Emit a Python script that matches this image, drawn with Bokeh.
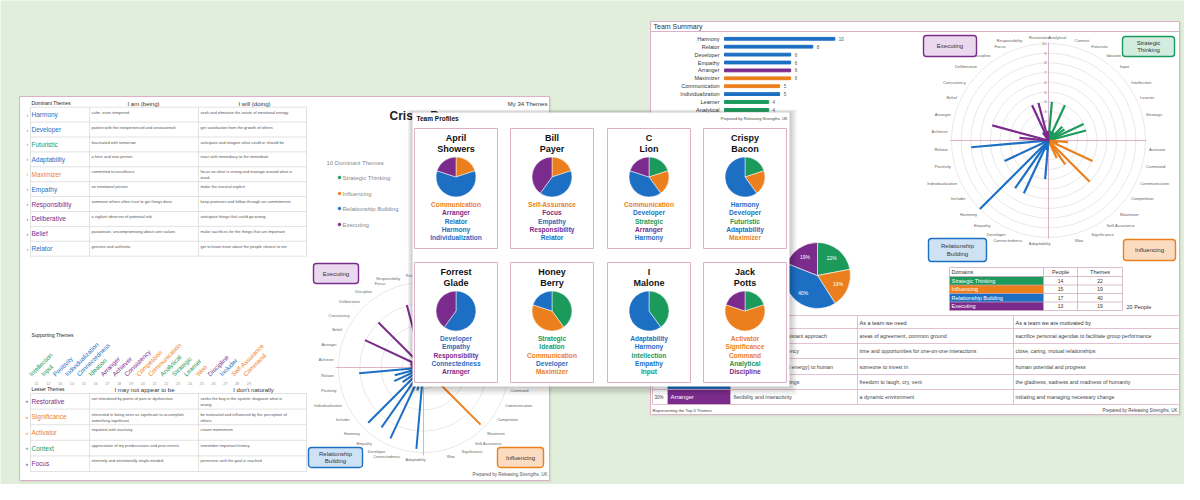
import math
from bokeh.plotting import figure
from bokeh.models import Range1d
from bokeh.core.properties import value
from bokeh.embed import file_html
from bokeh.resources import INLINE

# ---------------- data ----------------
DOMAINS = ["Strategic Thinking", "Influencing", "Relationship Building", "Executing"]
DOMAIN_COLORS = ["#1b9a5c", "#ec7f1d", "#1c6fc3", "#7a2b8c"]
BOX_FILLS = ["#d2ecdf", "#fcdcc0", "#cfe2f5", "#ead8ee"]
BOX_LABELS = ["Strategic\nThinking", "Influencing", "Relationship\nBuilding", "Executing"]

STRATEGIC = ["Analytical", "Context", "Futuristic", "Ideation", "Input", "Intellection", "Learner", "Strategic"]
INFLUENCING = ["Activator", "Command", "Communication", "Competition", "Maximizer", "Self-Assurance", "Significance", "Woo"]
RELATIONSHIP = ["Adaptability", "Connectedness", "Developer", "Empathy", "Harmony", "Includer", "Individualization", "Positivity", "Relator"]
EXECUTING = ["Achiever", "Arranger", "Belief", "Consistency", "Deliberative", "Discipline", "Focus", "Responsibility", "Restorative"]

# team counts (how many people have each theme in their top 5)
team_strategic = [4, 1, 4, 1, 2, 2, 4, 4]
team_influencing = [2, 1, 5, 0, 6, 3, 2, 0]
team_relationship = [4, 1, 6, 6, 10, 0, 5, 0, 8]
team_executing = [3, 6, 0, 0, 0, 1, 4, 4, 1]

top10_themes = ["Harmony", "Relator", "Developer", "Empathy", "Arranger", "Maximizer",
                "Communication", "Individualization", "Learner", "Analytical"]
top10_counts = [10, 8, 6, 6, 6, 6, 5, 5, 4, 4]

domain_people = [14, 15, 17, 13]
domain_themes = [22, 19, 40, 19]
team_size = 20

people_first = ["April", "Bill", "C", "Crispy", "Forrest", "Honey", "I", "Jack"]
people_last = ["Showers", "Payer", "Lion", "Bacon", "Glade", "Berry", "Malone", "Potts"]
people_top5 = [
    ["Communication", "Arranger", "Relator", "Harmony", "Individualization"],
    ["Self-Assurance", "Focus", "Empathy", "Responsibility", "Relator"],
    ["Communication", "Developer", "Strategic", "Arranger", "Harmony"],
    ["Harmony", "Developer", "Futuristic", "Adaptability", "Maximizer"],
    ["Developer", "Empathy", "Responsibility", "Connectedness", "Arranger"],
    ["Strategic", "Ideation", "Communication", "Developer", "Maximizer"],
    ["Adaptability", "Harmony", "Intellection", "Empathy", "Input"],
    ["Activator", "Significance", "Command", "Analytical", "Discipline"],
]

team_top5 = ["Harmony", "Relator", "Developer", "Empathy", "Arranger"]
team_top5_pct = ["50%", "40%", "30%", "30%", "30%"]
team_bring = ["a measured, discord-resistant approach", "openness and transparency",
              "an investment (time and energy) to human", "sensitivity to others' feelings",
              "flexibility and interactivity"]
team_need = ["areas of agreement, common ground", "time and opportunities for one-on-one interactions",
             "someone to invest in", "freedom to laugh, cry, vent", "a dynamic environment"]
team_motivated = ["sacrifice personal agendas to facilitate group performance",
                  "close, caring, mutual relationships", "human potential and progress",
                  "the gladness, sadness and madness of humanity",
                  "initiating and managing necessary change"]

crispy_dominant = ["Harmony", "Developer", "Futuristic", "Adaptability", "Maximizer",
                   "Empathy", "Responsibility", "Deliberative", "Belief", "Relator"]
crispy_i_am = ["calm, even-tempered", "patient with the inexperienced and unseasoned",
               "fascinated with tomorrow", "a here and now person", "committed to excellence",
               "an emotional person", "someone others often trust to get things done",
               "a vigilant observer of potential risk", "passionate, uncompromising about core values",
               "genuine and authentic"]
crispy_i_will = ["seek and eliminate the waste of emotional energy", "get satisfaction from the growth of others",
                 "anticipate and imagine what could or should be", "react with immediacy to the immediate",
                 "focus on what is strong and manage around what is\nweak", "make the visceral explicit",
                 "keep promises and follow through on commitments", "anticipate things that could go wrong",
                 "make sacrifices for the things that are important",
                 "get to know more about the people closest to me"]
crispy_supporting = ["Intellection", "Input", "Positivity", "Individualization", "Connectedness",
                     "Ideation", "Arranger", "Achiever", "Consistency", "Competition", "Communication",
                     "Analytical", "Strategic", "Learner", "Woo", "Discipline", "Includer",
                     "Self-Assurance", "Command"]
crispy_supporting_ranks = ["11", "12", "13", "14", "15", "16", "17", "18", "19", "20",
                           "21", "22", "23", "24", "25", "26", "27", "28", "29"]
crispy_lesser = ["Restorative", "Significance", "Activator", "Context", "Focus"]
crispy_not = ["not stimulated by points of pain or dysfunction",
              "interested in being seen as significant to accomplish\nsomething significant",
              "impatient with inactivity", "appreciative of my predecessors and prior events",
              "intensely and intentionally single-minded"]
crispy_dont = ["seeks the bug in the system; diagnose what is\nwrong",
               "be motivated and influenced by the perception of\nothers",
               "create momentum", "remember important history", "persevere until the goal is reached"]
# radial bar lengths (0-10 scale)
crispy_dominant_values = [9.2, 9.2, 9.0, 9.6, 9.5, 8.6, 7.6, 7.5, 7.6, 7.6]
crispy_supporting_values = [3.0, 2.8, 3.5, 3.8, 2.8, 2.4, 1.6, 1.5, 1.4, 1.3, 1.2, 1.1,
                            1.0, 1.0, 0.9, 0.9, 3.0, 0.8, 0.8]
crispy_lesser_values = [0.6, 0.6, 0.5, 0.5, 0.5]

# ---------------- helpers ----------------
BG = "#e2eedc"
PINK = "#dcb0c6"
FONT = value("Liberation Sans")
THEME_DOMAIN = {}
for di, lst in enumerate([STRATEGIC, INFLUENCING, RELATIONSHIP, EXECUTING]):
    for t in lst:
        THEME_DOMAIN[t] = di


def tcol(t):
    return DOMAIN_COLORS[THEME_DOMAIN[t]]


p = figure(width=1184, height=484, x_range=Range1d(0, 1184), y_range=Range1d(16, 500),
           output_backend="svg", toolbar_location=None, tools="",
           x_axis_location=None, y_axis_location=None, min_border=0)
p.grid.visible = False
p.outline_line_color = None
p.background_fill_color = BG
p.border_fill_color = BG


def Y(y):
    return 500 - y


def T(xs, ys, texts, size=5, color="#333333", align="left", baseline="middle", bold=False, angle=0.0):
    if not isinstance(xs, (list, tuple)):
        xs, ys, texts = [xs], [ys], [texts]
    n = len(xs)
    colors = color if isinstance(color, list) else [color] * n
    p.text(x=list(xs), y=[Y(v) for v in ys], text=list(texts), text_font=FONT,
           text_font_size=f"{size}px", text_color=colors, text_align=align,
           text_baseline=baseline, text_font_style="bold" if bold else "normal", angle=angle)


def R(x0, y0, x1, y1, fill="white", line=None, lw=1.0, alpha=1.0, radius=0):
    kw = {}
    if radius:
        kw["border_radius"] = radius
    p.quad(left=[x0], right=[x1], top=[Y(y0)], bottom=[Y(y1)], fill_color=fill, fill_alpha=alpha,
           line_color=line, line_width=lw, **kw)


def L(x0s, y0s, x1s, y1s, color=PINK, lw=0.8):
    p.segment(x0=list(x0s), y0=[Y(v) for v in y0s], x1=list(x1s), y1=[Y(v) for v in y1s],
              line_color=color, line_width=lw)


def grid(cols, rows, color="#d6d6d6", lw=0.7):
    L([cols[0]] * len(rows), rows, [cols[-1]] * len(rows), rows, color, lw)
    L(cols, [rows[0]] * len(cols), cols, [rows[-1]] * len(cols), color, lw)


def domain_box(x0, y0, x1, y1, di, size=6):
    R(x0, y0, x1, y1, fill=BOX_FILLS[di], line=DOMAIN_COLORS[di], lw=1.4, radius=3)
    T((x0 + x1) / 2, (y0 + y1) / 2, BOX_LABELS[di], size, "#333333", "center", "middle")


SLOTS = STRATEGIC + [""] + INFLUENCING + [""] + RELATIONSHIP + EXECUTING


def radial(cx, cy, r_out, n_circ, label_r, label_size, vals, lw, ext, numbers):
    p.circle(x=[cx] * n_circ, y=[Y(cy)] * n_circ, radius=[r_out * (i + 1) / n_circ for i in range(n_circ)],
             fill_color=None, line_color="#e2e2e2", line_width=0.8)
    L([cx - ext, cx], [cy, cy - ext], [cx + ext, cx], [cy, cy + ext], color="#d49dbc", lw=0.8)
    unit = r_out / 10.0
    x0, y0, x1, y1, cols = [], [], [], [], []
    groups = {}
    for k, t in enumerate(SLOTS):
        if not t:
            continue
        a = math.radians(5 + 10 * k)
        s, c = math.sin(a), math.cos(a)
        v = vals.get(t, 0)
        if v > 0:
            x0.append(cx); y0.append(cy)
            x1.append(cx + v * unit * s); y1.append(cy - v * unit * c)
            cols.append(tcol(t))
        align = "left" if s > 0.2 else ("right" if s < -0.2 else "center")
        base = "bottom" if c > 0.6 else ("top" if c < -0.6 else "middle")
        g = groups.setdefault((align, base), ([], [], []))
        g[0].append(cx + label_r * s); g[1].append(cy - label_r * c); g[2].append(t)
    p.segment(x0=x0, y0=[Y(v) for v in y0], x1=x1, y1=[Y(v) for v in y1], line_color=cols, line_width=lw)
    for (align, base), g in groups.items():
        T(g[0], g[1], g[2], label_size, "#666666", align, base)
    if numbers:
        T([cx - 2] * 10, [cy - unit * k for k in range(1, 11)], [str(k) for k in range(1, 11)],
          4, "#777777", "right", "middle")


# =============== LEFT DOCUMENT (personal report) ===============
R(20, 97, 551, 482, fill="#000000", alpha=0.05)
R(19, 96, 549, 480, fill="white", line=PINK, lw=1)

# dominant themes table
T(31, 103, "Dominant Themes", 4.8, "#222222")
T(143, 103, "I am (being)", 6, "#333333", "center")
T(254, 103, "I will (doing)", 6, "#333333", "center")
dom_rows = [106.7 + 14.9 * i for i in range(len(crispy_dominant) + 1)]
grid([30, 89, 198, 306], dom_rows)
for i, t in enumerate(crispy_dominant):
    yc = (dom_rows[i] + dom_rows[i + 1]) / 2
    T(26, yc, "›", 5, tcol(t), "left")
    T(31, yc, t, 6.5, tcol(t))
    T(91, dom_rows[i] + 2.5, crispy_i_am[i], 4, "#555555", "left", "top")
    T(200, dom_rows[i] + 2.5, crispy_i_will[i], 4, "#555555", "left", "top")

# supporting themes
T(31, 335, "Supporting Themes", 4.8, "#222222")
for i, t in enumerate(crispy_supporting):
    T(32 + 11.9 * i, 377, t, 6.3, tcol(t), "left", "bottom", angle=math.pi / 4)
T([36 + 11.8 * i for i in range(len(crispy_supporting_ranks))], [383] * len(crispy_supporting_ranks),
  crispy_supporting_ranks, 3.8, "#999999", "center")

# lesser themes table
T(31, 389, "Lesser Themes", 4.8, "#222222")
T(144, 389, "I may not appear to be", 6, "#333333", "center")
T(253, 389, "I don't naturally", 6, "#333333", "center")
les_rows = [393 + 15.6 * i for i in range(len(crispy_lesser) + 1)]
grid([30, 89, 198, 306], les_rows)
for i, t in enumerate(crispy_lesser):
    yc = (les_rows[i] + les_rows[i + 1]) / 2
    T(25, yc, "»", 5, tcol(t), "left")
    T(31, yc, t, 6.5, tcol(t))
    T(91, les_rows[i] + 2.5, crispy_not[i], 4, "#555555", "left", "top")
    T(200, les_rows[i] + 2.5, crispy_dont[i], 4, "#555555", "left", "top")

# title and legend
T(389, 115, "Crispy Bacon", 12, "#222222", "left", "middle", bold=True)
T(547, 103, "My 34 Themes", 6, "#333333", "right")
T(326, 162, f"{len(crispy_dominant)} Dominant Themes", 6, "#888888")
leg_y = [177, 193, 208, 224]
p.scatter(x=[339] * 4, y=[Y(v) for v in leg_y], size=2.5, color=DOMAIN_COLORS)
T([342] * 4, leg_y, DOMAINS, 6, "#888888")

crispy_vals = {}
for t, v in zip(crispy_dominant, crispy_dominant_values):
    crispy_vals[t] = v
for t, v in zip(crispy_supporting, crispy_supporting_values):
    crispy_vals[t] = v
for t, v in zip(crispy_lesser, crispy_lesser_values):
    crispy_vals[t] = v
radial(423, 367, 85, 4, 90, 3.9, crispy_vals, 2.0, 88, False)
domain_box(313, 263, 358, 283, 3)
domain_box(497, 263, 543, 283, 0)
domain_box(308, 447, 362, 467, 2)
domain_box(497, 447, 543, 467, 1)
T(547, 474, "Prepared by Releasing Strengths, UK", 4.5, "#555555", "right")

# =============== RIGHT DOCUMENT (team summary) ===============
R(651, 22, 1181, 416, fill="#000000", alpha=0.05)
R(650, 21, 1179, 414, fill="white", line=PINK, lw=1)
L([650], [31], [1179], [31], PINK, 1)
T(653, 26, "Team Summary", 7, "#333333")

# top-10 bar chart
bar_y = [38.3 + 7.9 * i for i in range(len(top10_themes))]
unit_w = 11.03
p.hbar(y=[Y(v) for v in bar_y], left=724, right=[724 + c * unit_w for c in top10_counts],
       height=2.8, color=[tcol(t) for t in top10_themes])
T([719] * 10, bar_y, top10_themes, 5.5, "#333333", "right")
T([728 + c * unit_w for c in top10_counts], bar_y, [str(c) for c in top10_counts], 4.5, "#555555")

# team radial
team_vals = {}
for lst, vals in zip([STRATEGIC, INFLUENCING, RELATIONSHIP, EXECUTING],
                     [team_strategic, team_influencing, team_relationship, team_executing]):
    for t, v in zip(lst, vals):
        team_vals[t] = v
radial(1048, 140, 97, 10, 101, 4.2, team_vals, 2.2, 98, True)
domain_box(923, 35, 976, 56, 3)
domain_box(1122, 36, 1174, 56, 0)
domain_box(928, 238, 986, 261, 2)
domain_box(1123, 239, 1175, 260, 1)

# domain pie
pcx, pcy, pr = 817, 275, 33
tot = float(sum(domain_themes))
cum = 0.0
st, en, lxs, lys, lts = [], [], [], [], []
for v in domain_themes:
    f0, f1 = cum / tot, (cum + v) / tot
    st.append(math.pi / 2 - 2 * math.pi * f0)
    en.append(math.pi / 2 - 2 * math.pi * f1)
    mid = 2 * math.pi * (f0 + f1) / 2
    lxs.append(pcx + 0.68 * pr * math.sin(mid))
    lys.append(pcy - 0.68 * pr * math.cos(mid))
    lts.append(f"{round(v / tot * 100)}%")
    cum += v
p.wedge(x=[pcx] * 4, y=[Y(pcy)] * 4, radius=pr, start_angle=st, end_angle=en, direction="clock",
        fill_color=DOMAIN_COLORS, line_color="white", line_width=0.6)
T(lxs, lys, lts, 5, "white", "center")

# domain table
dcols = [949, 1043, 1077, 1122]
drows = [267, 276, 284.5, 293, 301.5, 310]
for i in range(4):
    R(dcols[0], drows[i + 1], dcols[1], drows[i + 2], fill=DOMAIN_COLORS[i])
grid(dcols, drows, "#c9a3b6", 0.7)
T(951, 271.5, "Domains", 5.5, "#333333")
T(1060, 271.5, "People", 5.5, "#333333", "center")
T(1099.5, 271.5, "Themes", 5.5, "#333333", "center")
rc = [(drows[i + 1] + drows[i + 2]) / 2 for i in range(4)]
T([951] * 4, rc, DOMAINS, 5.5, "white")
T([1060] * 4, rc, [str(v) for v in domain_people], 5, "#333333", "center")
T([1099.5] * 4, rc, [str(v) for v in domain_themes], 5, "#333333", "center")
T(1126, 306, f"{team_size} People", 5.5, "#333333")

# team table
tcols = [652, 667, 730, 857, 1013, 1179]
trows = [328, 343, 358, 374, 389, 404]
L([652], [315], [1179], [315], PINK, 0.8)
L([857, 1013, 1179], [315] * 3, [857, 1013, 1179], [328] * 3, PINK, 0.8)
T(733, 322, "As a team we bring", 5.5, "#333333")
T(859, 322, "As a team we need", 5.5, "#333333")
T(1015, 322.5, "As a team we are motivated by", 5.5, "#333333")
for i, t in enumerate(team_top5):
    R(tcols[1], trows[i], tcols[2], trows[i + 1], fill=tcol(t))
grid(tcols, trows, PINK, 0.8)
rc = [(trows[i] + trows[i + 1]) / 2 for i in range(5)]
T([654] * 5, rc, team_top5_pct, 4.5, "#444444")
T([670] * 5, rc, team_top5, 6, "white")
T([733] * 5, rc, team_bring, 5.3, "#444444")
T([859] * 5, rc, team_need, 5.3, "#444444")
T([1015] * 5, rc, team_motivated, 5.3, "#444444")
T(652, 409.5, "Representing the Top 5 Themes", 4.2, "#444444")
T(1177, 409.5, "Prepared by Releasing Strengths, UK", 4.5, "#444444", "right")

# =============== MIDDLE DOCUMENT (team profiles) ===============
for k in range(1, 7):
    R(412 - k * 0.8, 112 - k * 0.5, 789 + k * 1.2, 386 + k * 1.4, fill="#000000", alpha=0.035)
R(412, 112, 789, 386, fill="white")
T(416, 118, "Team Profiles", 6.5, "#111111", bold=True)
T(787, 118, "Prepared by Releasing Strengths, UK", 4, "#444444", "right")

CARD_X = [414, 510, 607, 703]
CARD_Y = [128, 262]
CARD_W, CARD_H = 83, 120
for i in range(len(people_first)):
    x0 = CARD_X[i % 4]
    y0 = CARD_Y[i // 4]
    xc = x0 + CARD_W / 2
    R(x0, y0, x0 + CARD_W, y0 + CARD_H, fill="white", line=PINK, lw=1)
    T([xc, xc], [y0 + 9.5, y0 + 20.5], [people_first[i], people_last[i]], 9, "#111111", "center", bold=True)
    counts = [0, 0, 0, 0]
    for t in people_top5[i]:
        counts[THEME_DOMAIN[t]] += 1
    tot = float(sum(counts))
    cum = 0.0
    st, en, fc = [], [], []
    for di, c in enumerate(counts):
        if c == 0:
            continue
        st.append(math.pi / 2 - 2 * math.pi * cum / tot)
        en.append(math.pi / 2 - 2 * math.pi * (cum + c) / tot)
        fc.append(DOMAIN_COLORS[di])
        cum += c
    pyc = y0 + 48.5
    p.wedge(x=[xc] * len(st), y=[Y(pyc)] * len(st), radius=20, start_angle=st, end_angle=en,
            direction="clock", fill_color=fc, line_color="white", line_width=0.5)
    T([xc] * 5, [y0 + 76 + 8.3 * j for j in range(5)], people_top5[i], 6.6,
      [tcol(t) for t in people_top5[i]], "center", bold=True)

open("out.html", "w").write(file_html(p, INLINE))
